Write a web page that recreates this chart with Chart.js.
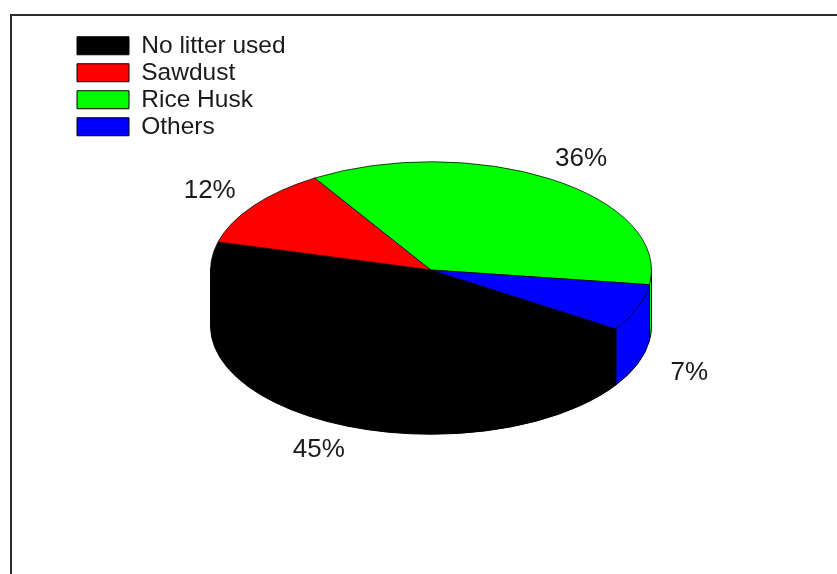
<!DOCTYPE html>
<html>
<head>
<meta charset="utf-8">
<title>Litter use</title>
<script src="https://cdn.jsdelivr.net/npm/chart.js@4/dist/chart.umd.min.js"></script>
<style>
    html, body { margin: 0; padding: 0; background: #fff; overflow: hidden; }
    #frame {
        position: absolute; left: 10px; top: 14px; width: 827px; height: 560px;
        border-top: 2px solid #2b2b2b; border-left: 2px solid #2b2b2b;
        box-sizing: border-box;
    }
    canvas { position: absolute; left: 0; top: 0; }
</style>
</head>
<body>
<div id="frame"></div>
<canvas id="litterChart" width="837" height="574"></canvas>
<script>
const categories = ['No litter used', 'Sawdust', 'Rice Husk', 'Others'];
const shares = [45, 12, 36, 7];
const sliceColors = ['#000000', '#ff0000', '#00ff00', '#0000ff'];

const squash = 108 / 220;   // flattens the circle into the top ellipse
const depth = 56;           // height of the side wall
const labelFont = '26px "Liberation Sans", Arial, sans-serif';

// side wall of the disc, only the part facing the viewer (0..PI)
function drawWall(ctx, arc) {
    const rx = arc.outerRadius;
    const ry = rx * squash;
    const { x, y } = arc;
    [0, -2 * Math.PI].forEach(function(shift) {
        const lo = Math.max(arc.startAngle + shift, 0);
        const hi = Math.min(arc.endAngle + shift, Math.PI);
        if (hi <= lo) return;
        ctx.beginPath();
        // top edge runs 2px under the disc so no seam shows through
        ctx.ellipse(x, y - 2, rx, ry, 0, lo, hi);
        ctx.ellipse(x, y + depth, rx, ry, 0, hi, lo, true);
        ctx.closePath();
        ctx.fillStyle = arc.options.backgroundColor;
        ctx.fill();
        ctx.strokeStyle = '#000';
        ctx.lineWidth = 1;
        ctx.stroke();
    });
}

const pie3d = {
    id: 'pie3d',
    afterLayout(chart) {
        // legend sits in the top left corner, away from the pie
        const legend = chart.legend;
        legend.left = 74.5;
        legend.right = 400;
        legend.top = 31;
        legend.bottom = 400;
    },
    beforeDatasetsDraw(chart) {
        const ctx = chart.ctx;
        const arcs = chart.getDatasetMeta(0).data;
        arcs.forEach(function(arc) { drawWall(ctx, arc); });
        ctx.save();
        ctx.translate(0, arcs[0].y);
        ctx.scale(1, squash);
        ctx.translate(0, -arcs[0].y);
    },
    afterDatasetsDraw(chart) {
        const ctx = chart.ctx;
        ctx.restore();
        ctx.save();
        ctx.font = labelFont;
        ctx.fillStyle = '#1a1a1a';
        ctx.textAlign = 'center';
        ctx.textBaseline = 'middle';
        chart.getDatasetMeta(0).data.forEach(function(arc, i) {
            const mid = (arc.startAngle + arc.endAngle) / 2;
            const r = arc.outerRadius * 1.25;
            const sin = Math.sin(mid);
            const lx = arc.x + r * Math.cos(mid);
            const ly = arc.y + 2 + r * squash * sin + (sin > 0 ? depth - 2 : 0);
            ctx.fillText(shares[i] + '%', lx, ly);
        });
        ctx.restore();
    }
};

new Chart(document.getElementById('litterChart').getContext('2d'), {
    type: 'pie',
    data: {
        labels: categories,
        datasets: [{
            data: shares,
            backgroundColor: sliceColors,
            borderColor: '#000',
            borderWidth: 1
        }]
    },
    options: {
        responsive: false,
        animation: false,
        rotation: 123,
        layout: { padding: { left: 210, right: 185, top: 49, bottom: 83 } },
        plugins: {
            tooltip: { enabled: false },
            legend: {
                position: 'chartArea',
                align: 'start',
                labels: {
                    boxWidth: 52,
                    boxHeight: 18,
                    padding: 2.5,
                    color: '#1a1a1a',
                    font: { family: '"Liberation Sans", Arial, sans-serif', size: 24.5, lineHeight: 1 }
                }
            }
        }
    },
    plugins: [pie3d]
});
</script>
</body>
</html>
